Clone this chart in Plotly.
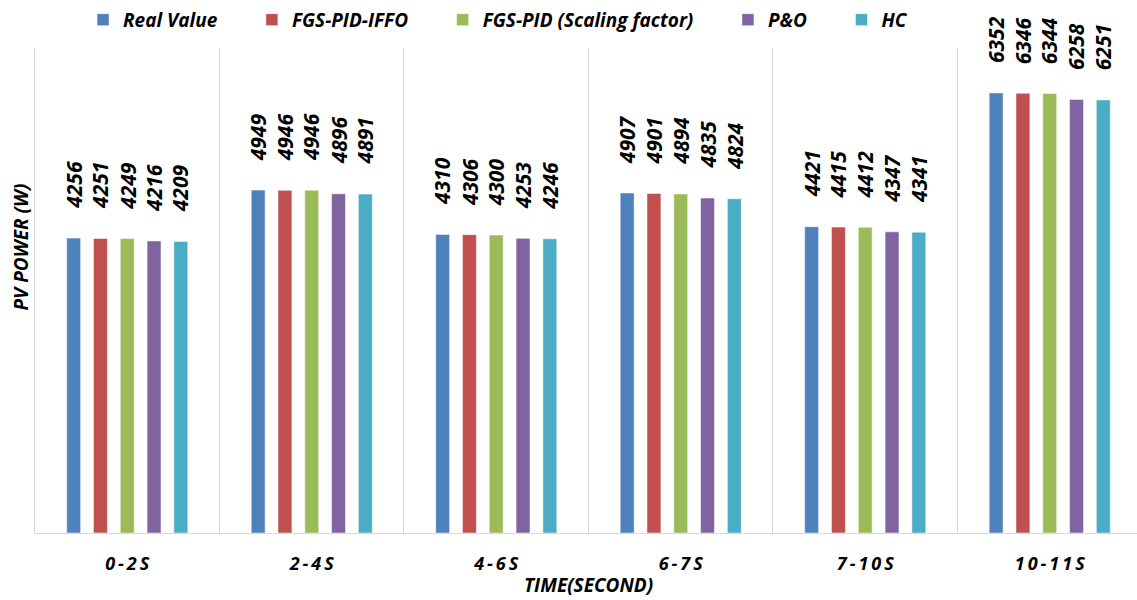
import plotly.graph_objects as go

categories = ["0-2S", "2-4S", "4-6S", "6-7S", "7-10S", "10-11S"]
series_names = ["Real Value", "FGS-PID-IFFO", "FGS-PID (Scaling factor)", "P&O", "HC"]
real_value = [4256, 4949, 4310, 4907, 4421, 6352]
fgs_pid_iffo = [4251, 4946, 4306, 4901, 4415, 6346]
fgs_pid_scaling = [4249, 4946, 4300, 4894, 4412, 6344]
p_and_o = [4216, 4896, 4253, 4835, 4347, 6258]
hc = [4209, 4891, 4246, 4824, 4341, 6251]

series_values = [real_value, fgs_pid_iffo, fgs_pid_scaling, p_and_o, hc]
colors = ["#4F81BD", "#C0504D", "#9BBB59", "#8064A2", "#4BACC6"]
FONT = "Open Sans"
BI = dict(family=FONT, color="black", weight="bold", style="italic")
BARGAP = 0.274
NSER = len(series_names)

fig = go.Figure()
annotations = []
for i, (name, vals, col) in enumerate(zip(series_names, series_values, colors)):
    fig.add_trace(go.Bar(
        name=name + "\u00a0" * 6, x=categories, y=vals,
        marker=dict(color=col, line=dict(color="rgba(255,255,255,0.5)", width=1)),
        cliponaxis=False,
    ))
    # value labels centred on each grouped bar slot
    slot = (1 - BARGAP) / NSER
    for j, v in enumerate(vals):
        annotations.append(dict(
            x=j - (1 - BARGAP) / 2 + (i + 0.5) * slot, y=v, xref="x", yref="y",
            text=str(v), textangle=-90, showarrow=False,
            xanchor="center", yanchor="middle", yshift=53,
            font=dict(size=21, **BI),
        ))

ticktext = ["\u2009".join(c) for c in categories]

annotations += [
    dict(text="TIME(SECOND)", xref="paper", yref="paper", x=0.502, y=-0.108,
         xanchor="center", yanchor="middle", showarrow=False,
         font=dict(size=19, **BI)),
    dict(text="PV POWER (W)", xref="paper", yref="paper", x=-0.013, y=0.59,
         xanchor="center", yanchor="middle", textangle=-90, showarrow=False,
         font=dict(size=19, **BI)),
]

fig.update_layout(
    width=1137, height=600,
    margin=dict(l=35, r=0, t=48, b=67),
    paper_bgcolor="white", plot_bgcolor="white",
    barmode="group", bargap=BARGAP, bargroupgap=0.48,
    showlegend=True,
    legend=dict(orientation="h", x=0.0436, xanchor="left", y=0.967, yanchor="middle",
                yref="container",
                font=dict(size=19, **BI),
                traceorder="normal"),
    xaxis=dict(
        range=[-0.5, 5.473],
        tickmode="array", tickvals=categories, ticktext=ticktext,
        tickson="boundaries", ticks="", showgrid=True, gridcolor="#D9D9D9", gridwidth=1,
        showline=True, linecolor="#D9D9D9", linewidth=1,
        ticklabelstandoff=14,
        tickfont=dict(size=18, **BI),
    ),
    yaxis=dict(
        range=[0, 7000], showticklabels=False, ticks="", showgrid=False, zeroline=False,
        showline=True, linecolor="#D9D9D9", linewidth=1,
    ),
    annotations=annotations,
)

fig.write_html("out.html")
